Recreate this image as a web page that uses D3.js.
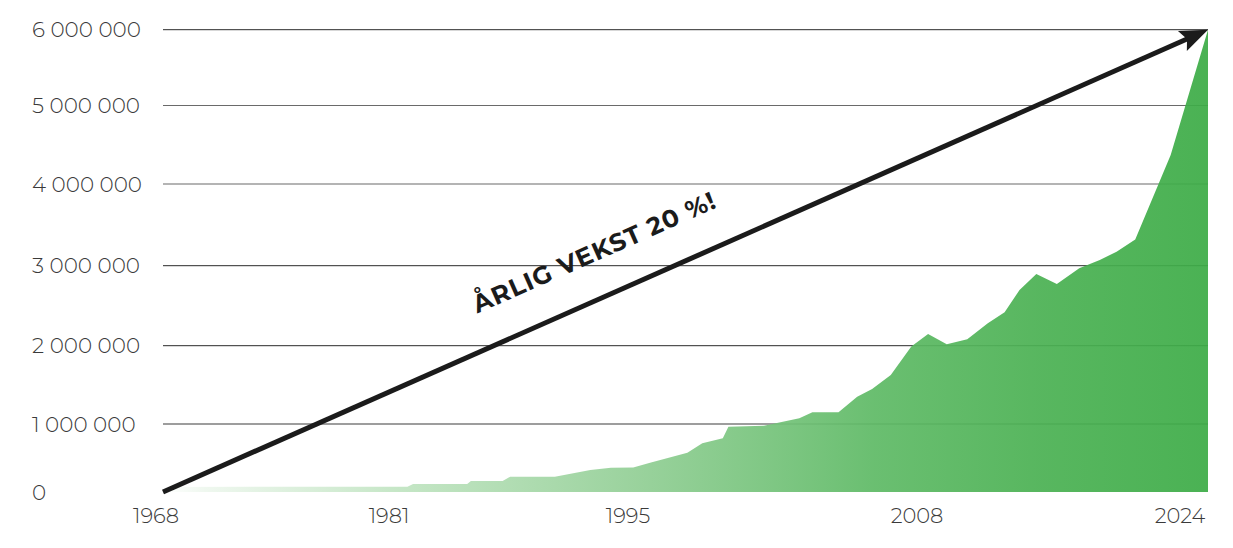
<!DOCTYPE html>
<html>
<head>
<meta charset="utf-8">
<script src="https://cdn.jsdelivr.net/npm/d3@7"></script>
<style>
  html, body { margin: 0; padding: 0; background: #fff; }
  svg { display: block; }
  .lbl { font-family: "Montserrat", "Inter", "Open Sans", sans-serif; font-weight: 300; fill: #3a3a3a; }
  .note { font-family: "Montserrat", "Inter", "Open Sans", sans-serif; font-weight: 700; fill: #1b1b1b; }
</style>
</head>
<body>
<svg id="chart" width="1233" height="548"></svg>
<script>
// ---- data ----
const years = [1968, 1981.1, 1981.4, 1984.3, 1984.5, 1986.2, 1986.6, 1989.0, 1990.9, 1992.0,
  1993.2, 1994.1, 1996.1, 1996.9, 1998.0, 1998.3, 2000.2, 2002.1, 2002.8, 2004.2,
  2005.2, 2006, 2007, 2008.1, 2009, 2010, 2011.1, 2012.2, 2013.1, 2013.9,
  2014.8, 2015.9, 2017.1, 2018.2, 2019.1, 2020.1, 2022, 2024];
const values = [75000, 78000, 118000, 118000, 162000, 162000, 225000, 225000, 324000, 357000,
  360000, 431000, 578000, 716000, 790000, 960000, 975000, 1073000, 1149000, 1149000,
  1349000, 1447000, 1626000, 1990000, 2146000, 2018000, 2080000, 2280000, 2418000, 2696000,
  2896000, 2771000, 2968000, 3070000, 3171000, 3320000, 4370000, 6000000];
const xTicks = [1968, 1981, 1995, 2008, 2024];
const yTicks = [0, 1000000, 2000000, 3000000, 4000000, 5000000, 6000000];
const yTickLabels = ["0", "1 000 000", "2 000 000", "3 000 000", "4 000 000", "5 000 000", "6 000 000"];
const note = "ÅRLIG VEKST 20 %!";

// ---- layout ----
const svg = d3.select("#chart");
const x = d3.scaleLinear().domain([1968, 2024]).range([163, 1208]);
// the reference's value axis is not evenly spaced; follow its grid positions
const y = d3.scaleLinear().domain(yTicks).range([492, 424, 345.7, 265.7, 184, 105.5, 29.7]);
// tick labels in the reference are placed at their own positions
const xLabelPos = d3.scaleLinear().domain(xTicks).range([156, 389, 628, 917, 1180]);

const pts = years.map((yr, i) => ({ yr, v: values[i] }));

// gradient
const defs = svg.append("defs");
const grad = defs.append("linearGradient").attr("id", "g")
  .attr("gradientUnits", "userSpaceOnUse")
  .attr("x1", x(1968)).attr("x2", x(2024)).attr("y1", 0).attr("y2", 0);
[[0, "#ffffff"], [0.04, "#eef7ee"], [0.23, "#c0e4c1"], [0.45, "#93cf96"],
 [0.68, "#5fba66"], [0.84, "#4bb153"], [1, "#3dac47"]].forEach(([o, c]) =>
  grad.append("stop").attr("offset", o).attr("stop-color", c));

// gridlines
const gridStyle = { 1000000: ["#7c7c7c", 1.5], 2000000: ["#2a2a2a", 1], 3000000: ["#2a2a2a", 1],
  4000000: ["#6a6a6a", 1.2], 5000000: ["#6a6a6a", 1.2], 6000000: ["#2a2a2a", 1] };
svg.append("g").selectAll("line").data(yTicks.filter(d => d > 0)).join("line")
  .attr("x1", x(1968)).attr("x2", x(2024))
  .attr("y1", d => y(d)).attr("y2", d => y(d))
  .attr("stroke", d => gridStyle[d][0]).attr("stroke-width", d => gridStyle[d][1]);

// area
const area = d3.area().x(d => x(d.yr)).y0(y(0)).y1(d => y(d.v)).curve(d3.curveLinear);
svg.append("path").datum(pts).attr("d", area).attr("fill", "url(#g)").attr("fill-opacity", 0.93);

// y labels
svg.append("g").selectAll("text").data(yTicks).join("text")
  .attr("class", "lbl").attr("x", 32).attr("y", d => y(d)).attr("dy", "0.36em")
  .attr("font-size", 21.5).text((d, i) => yTickLabels[i]);

// x labels
svg.append("g").selectAll("text").data(xTicks).join("text")
  .attr("class", "lbl").attr("x", d => xLabelPos(d)).attr("y", 515).attr("dy", "0.36em")
  .attr("text-anchor", "middle").attr("font-size", 21).text(d => d);

// arrow
const x0 = x(1968), y0 = y(0), x1 = x(2024), y1 = y(6000000);
const ang = Math.atan2(y1 - y0, x1 - x0);
const headLen = 28, headW = 11;
const bx = x1 - headLen * Math.cos(ang), by = y1 - headLen * Math.sin(ang);
svg.append("line").attr("x1", x0).attr("y1", y0).attr("x2", bx + (x1 - bx) * 0.2).attr("y2", by + (y1 - by) * 0.2)
  .attr("stroke", "#1b1b1b").attr("stroke-width", 5);
const px = -Math.sin(ang), py = Math.cos(ang);
svg.append("path")
  .attr("d", `M${x1},${y1}L${bx + px * headW},${by + py * headW}L${bx + (x1 - bx) * 0.18},${by + (y1 - by) * 0.18}L${bx - px * headW},${by - py * headW}Z`)
  .attr("fill", "#1b1b1b");

// annotation
const t = 0.43, off = 36;
const tx = x0 + (x1 - x0) * t + Math.sin(ang) * off;
const ty = y0 + (y1 - y0) * t - Math.cos(ang) * off;
svg.append("text").attr("class", "note")
  .attr("transform", `translate(${tx},${ty}) rotate(${ang * 180 / Math.PI})`)
  .attr("text-anchor", "middle").attr("font-size", 25).attr("letter-spacing", 1).text(note);
</script>
</body>
</html>
